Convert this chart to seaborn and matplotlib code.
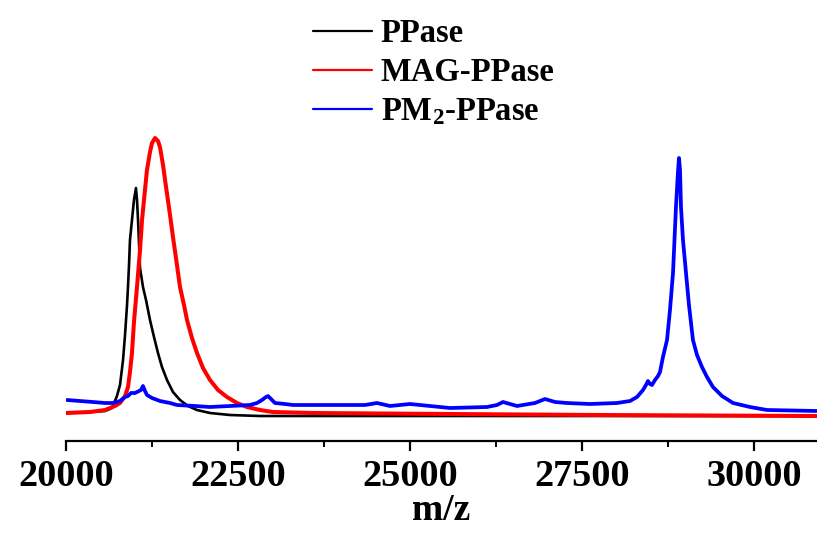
import numpy as np
import pandas as pd
import matplotlib
matplotlib.use("Agg")
import matplotlib.pyplot as plt
from matplotlib.ticker import MultipleLocator
from matplotlib.lines import Line2D
import seaborn as sns

# ---- data (arbitrary intensity units) ----
ppase_mz = [20000, 20349, 20567, 20669, 20741, 20785, 20829, 20858, 20887, 20901,
            20916, 20930, 20959, 20988, 21017, 21032, 21047, 21076, 21119, 21163,
            21221, 21279, 21337, 21395, 21468, 21555, 21657, 21773, 21904, 22093,
            22384, 22820, 30916]
ppase_int = [31, 32, 33, 36, 48, 59, 84, 109, 139, 157,
             179, 204, 224, 244, 256, 244, 224, 176, 157, 144,
             124, 107, 91, 77, 64, 52, 44, 38, 34, 31,
             29, 28, 28]

mag_mz = [20000, 20349, 20567, 20712, 20785, 20858, 20901, 20930, 20959, 20988,
          21032, 21076, 21105, 21148, 21177, 21221, 21250, 21294, 21337, 21366,
          21410, 21454, 21512, 21555, 21613, 21657, 21715, 21759, 21831, 21904,
          21991, 22093, 22209, 22340, 22486, 22631, 22820, 23009, 23590, 25581,
          27762, 30916]
mag_int = [31, 32, 34, 38, 41, 48, 57, 72, 91, 122,
           157, 194, 224, 254, 274, 292, 301, 306, 303, 297,
           279, 257, 229, 207, 179, 157, 139, 124, 106, 91,
           76, 64, 54, 47, 41, 37, 34, 32, 31, 30,
           29, 28]

pm2_mz = [20015, 20203, 20392, 20567, 20683, 20785, 20858, 20901, 20945, 21003,
          21061, 21090, 21119, 21148, 21177, 21250, 21366, 21512, 21613, 21875,
          22093, 22384, 22674, 22776, 22849, 22907, 22936, 22980, 23038, 23183,
          23299, 23648, 24055, 24346, 24520, 24709, 25000, 25291, 25581, 26119,
          26265, 26352, 26454, 26555, 26817, 26962, 27108, 27282, 27616, 28009,
          28198, 28300, 28387, 28430, 28459, 28488, 28518, 28561, 28605, 28634,
          28677, 28736, 28779, 28823, 28866, 28895, 28910, 28925, 28939, 28968,
          29012, 29055, 29113, 29172, 29244, 29317, 29404, 29535, 29695, 29942,
          30189, 30916]
pm2_int = [44, 43, 42, 41, 41, 43, 47, 48, 51, 51,
           53, 54, 58, 53, 49, 46, 43, 41, 39, 38,
           37, 38, 39, 41, 44, 47, 48, 45, 41, 40,
           39, 39, 39, 39, 41, 38, 40, 38, 36, 37,
           39, 42, 40, 38, 41, 45, 42, 41, 40, 41,
           43, 47, 54, 59, 63, 60, 59, 64, 68, 72,
           87, 104, 134, 171, 237, 272, 286, 274, 237, 204,
           171, 139, 104, 89, 77, 67, 57, 48, 41, 37,
           34, 33]

series_names = ["PPase", "MAG-PPase", "PM$_\\mathrm{2}$-PPase"]
series_colors = ["#000000", "#ff0000", "#0000ff"]
x_ticks = [20000, 22500, 25000, 27500, 30000]

df = pd.concat([
    pd.DataFrame({"mz": ppase_mz, "I": ppase_int, "s": series_names[0]}),
    pd.DataFrame({"mz": mag_mz, "I": mag_int, "s": series_names[1]}),
    pd.DataFrame({"mz": pm2_mz, "I": pm2_int, "s": series_names[2]}),
], ignore_index=True)

sns.set_theme(style="white")
plt.rcParams["font.family"] = ["Liberation Serif", "DejaVu Serif"]
plt.rcParams["font.weight"] = "bold"
plt.rcParams["text.color"] = "black"
plt.rcParams["axes.labelcolor"] = "black"
plt.rcParams["xtick.color"] = "black"
plt.rcParams["mathtext.fontset"] = "custom"
plt.rcParams["mathtext.rm"] = "Liberation Serif:bold"
plt.rcParams["mathtext.it"] = "Liberation Serif:bold"
plt.rcParams["mathtext.bf"] = "Liberation Serif:bold"

fig = plt.figure(figsize=(8.17, 5.42), dpi=100)
ax = fig.add_axes([66 / 817, 101 / 542, 751 / 817, 441 / 542])

sns.lineplot(data=df, x="mz", y="I", hue="s", hue_order=series_names,
             palette=dict(zip(series_names, series_colors)),
             estimator=None, sort=False, ax=ax, legend=False)
lws = [1.9, 2.9, 2.7]
for line, lw in zip(ax.lines, lws):
    line.set_linewidth(lw)
    line.set_solid_joinstyle("round")

ax.set_xlim(20000, 30916)
ax.set_ylim(3, 444)
for sp in ["left", "right", "top"]:
    ax.spines[sp].set_visible(False)
ax.spines["bottom"].set_linewidth(1.6)
ax.spines["bottom"].set_color("black")
ax.set_yticks([])
ax.set_xticks(x_ticks)
ax.set_xticklabels([str(t) for t in x_ticks])
ax.xaxis.set_minor_locator(MultipleLocator(1250))
ax.tick_params(axis="x", which="major", direction="out", length=7, width=1.6,
               colors="black", labelsize=27.5, pad=6, bottom=True)
ax.tick_params(axis="x", which="minor", direction="out", length=4.2, width=1.4,
               colors="black", bottom=True)
for lab in ax.get_xticklabels():
    lab.set_fontweight("bold")
ax.set_xlabel("m/z", fontsize=27, fontweight="bold", labelpad=-1)
ax.set_ylabel("")

handles = [Line2D([], [], color=c, lw=1.6) for c in series_colors]
leg = fig.legend(handles, series_names, loc="upper left",
                 bbox_to_anchor=(313 / 817, 1 - 18 / 542), frameon=False,
                 fontsize=23.5, handlelength=1.8, handletextpad=0.28,
                 labelspacing=0.25, borderpad=0, borderaxespad=0)
for t in leg.get_texts():
    t.set_fontweight("bold")

fig.savefig("out.png", dpi=100)
